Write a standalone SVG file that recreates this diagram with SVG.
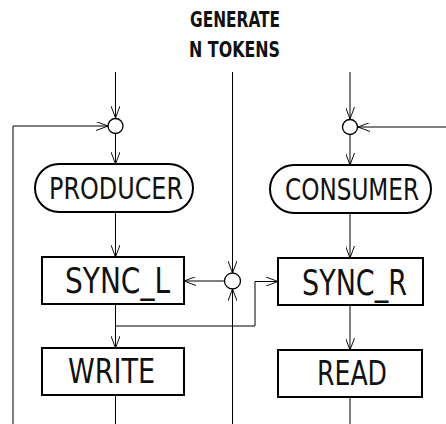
<svg xmlns="http://www.w3.org/2000/svg" width="446" height="424" viewBox="0 0 446 424">
<defs>
<marker id="v" viewBox="0 0 12 10" refX="12" refY="5" markerWidth="12" markerHeight="9" markerUnits="userSpaceOnUse" orient="auto" preserveAspectRatio="none">
<path d="M0,0 L12,5 L0,10" fill="none" stroke="#000" stroke-width="1"/>
</marker>
<style>
.t{font-family:"DejaVu Sans Condensed","Liberation Sans Narrow","Liberation Sans",sans-serif;fill:#111;text-anchor:start}
.box{fill:#fff;stroke:#000;stroke-width:2}
.c{fill:#fff;stroke:#000;stroke-width:1.3}
.ln{fill:none;stroke:#000;stroke-width:1}
.a{fill:none;stroke:#000;stroke-width:1;marker-end:url(#v)}
</style>
</defs>
<rect width="446" height="424" fill="#fff"/>
<g id="label-generate">
<text class="t" x="190" y="27" font-size="21" font-weight="bold" textLength="90" lengthAdjust="spacingAndGlyphs">GENERATE</text>
<text class="t" x="189" y="57" font-size="21" font-weight="bold" textLength="91" lengthAdjust="spacingAndGlyphs">N TOKENS</text>
</g>
<g id="connectors">
<line class="a" x1="115.5" y1="72" x2="115.5" y2="118"/>
<polyline class="a" points="13,424 13,126 108,126"/>
<line class="a" x1="115.5" y1="134" x2="115.5" y2="164"/>
<line class="a" x1="115.5" y1="212" x2="115.5" y2="257"/>
<line class="a" x1="115.5" y1="304" x2="115.5" y2="348"/>
<polyline class="a" points="115.5,326 255,326 255,281.5 278,281.5"/>
<line class="ln" x1="115.5" y1="395" x2="115.5" y2="424"/>
<line class="a" x1="232.5" y1="72" x2="232.5" y2="273"/>
<line class="a" x1="232.5" y1="424" x2="232.5" y2="289"/>
<line class="a" x1="224.5" y1="281" x2="184" y2="281"/>
<line class="a" x1="350" y1="72" x2="350" y2="119"/>
<line class="a" x1="446" y1="127" x2="358" y2="127"/>
<line class="a" x1="350" y1="135" x2="350" y2="165"/>
<line class="a" x1="350" y1="213" x2="350" y2="258"/>
<line class="a" x1="350" y1="305" x2="350" y2="350"/>
<line class="ln" x1="350" y1="397" x2="350" y2="424"/>
</g>
<g id="join-left"><circle class="c" cx="115.5" cy="126" r="7.5"/></g>
<g id="join-right"><circle class="c" cx="350" cy="127" r="7.5"/></g>
<g id="join-mid"><circle class="c" cx="232.5" cy="281" r="8"/></g>
<g id="producer">
<rect class="box" x="35" y="164" width="158" height="48" rx="24"/>
<text class="t" x="49" y="199" font-size="30" textLength="134" lengthAdjust="spacingAndGlyphs">PRODUCER</text>
</g>
<g id="consumer">
<rect class="box" x="270" y="165" width="161" height="48" rx="24"/>
<text class="t" x="285" y="200" font-size="30" textLength="134" lengthAdjust="spacingAndGlyphs">CONSUMER</text>
</g>
<g id="sync-l">
<rect class="box" x="42" y="257" width="142" height="47"/>
<text class="t" x="65" y="293" font-size="35" textLength="105" lengthAdjust="spacingAndGlyphs">SYNC_L</text>
</g>
<g id="sync-r">
<rect class="box" x="278" y="258" width="145" height="47"/>
<text class="t" x="302" y="295" font-size="35" textLength="105" lengthAdjust="spacingAndGlyphs">SYNC_R</text>
</g>
<g id="write">
<rect class="box" x="42" y="348" width="142" height="47"/>
<text class="t" x="68" y="383" font-size="33" textLength="87" lengthAdjust="spacingAndGlyphs">WRITE</text>
</g>
<g id="read">
<rect class="box" x="278" y="350" width="144" height="47"/>
<text class="t" x="317" y="385" font-size="33" textLength="70" lengthAdjust="spacingAndGlyphs">READ</text>
</g>
</svg>
